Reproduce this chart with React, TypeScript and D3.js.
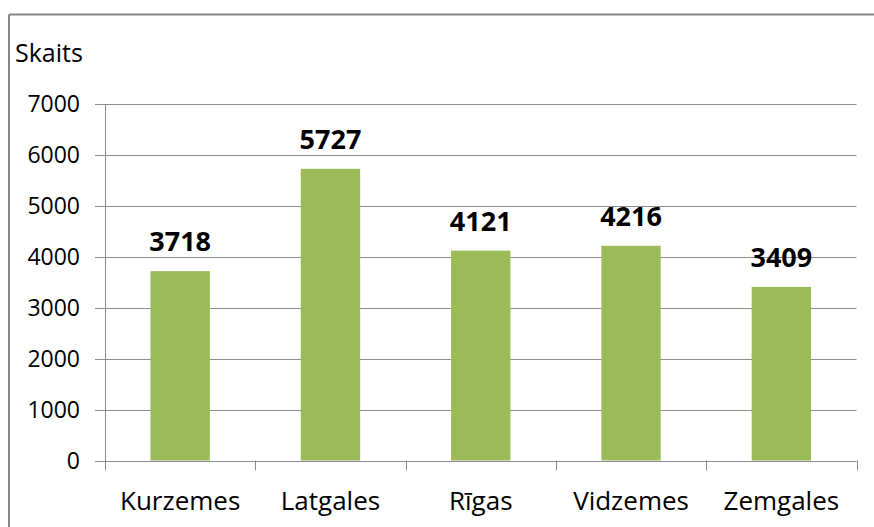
import React from "react";
import * as d3 from "d3";

const categories = ["Kurzemes", "Latgales", "Rīgas", "Vidzemes", "Zemgales"];
const values = [3718, 5727, 4121, 4216, 3409];
const yTicks = [0, 1000, 2000, 3000, 4000, 5000, 6000, 7000];
const yTitle = "Skaits";

const W = 874;
const H = 527;
const FONT = "'Open Sans', Lato, sans-serif";

export default function App() {
  const left = 105;
  const right = 856.5;
  const top = 104;
  const bottom = 460.5;

  const x = d3.scaleBand<string>().domain(categories).range([left, right]).paddingInner(0).paddingOuter(0);
  const y = d3.scaleLinear().domain([0, 7000]).range([bottom, top]);
  const bw = x.bandwidth() * 0.395;
  const grid = "#8c8c8c";

  return (
    <svg width={W} height={H} style={{ position: "absolute", left: 0, top: 0 }}>
      <rect x={0} y={0} width={W} height={H} fill="#fff" />
      {/* chart border (top and left) */}
      <line x1={9} y1={14.5} x2={W} y2={14.5} stroke="#868686" strokeWidth={2} />
      <line x1={9} y1={14.5} x2={9} y2={H} stroke="#868686" strokeWidth={2} />

      <text x={15} y={62} fontFamily={FONT} fontSize={25} fill="#000">{yTitle}</text>

      {yTicks.map((t) => (
        <g key={t}>
          <line x1={left - 10} x2={right} y1={Math.round(y(t)) + 0.5} y2={Math.round(y(t)) + 0.5} stroke={grid} strokeWidth={1} />
          <text x={80} y={y(t)} dy="0.36em" textAnchor="end" fontFamily={FONT} fontSize={23} fill="#000">{t}</text>
        </g>
      ))}
      <line x1={left + 0.5} x2={left + 0.5} y1={top} y2={bottom + 10} stroke={grid} strokeWidth={1} />
      {categories.map((c, i) => (
        <line key={"t" + i} x1={Math.round((x(c) as number) + x.bandwidth()) + 0.5} x2={Math.round((x(c) as number) + x.bandwidth()) + 0.5} y1={bottom} y2={bottom + 10} stroke={grid} strokeWidth={1} />
      ))}

      {categories.map((c, i) => {
        const cx = (x(c) as number) + x.bandwidth() / 2;
        return (
          <g key={c}>
            <rect x={cx - bw / 2} y={y(values[i])} width={bw} height={bottom - y(values[i])} fill="#9BBB59" />
            <text x={cx} y={y(values[i]) - 20} textAnchor="middle" fontFamily={FONT} fontWeight="bold" fontSize={27} fill="#000">{values[i]}</text>
            <text x={cx} y={510} textAnchor="middle" fontFamily={FONT} fontSize={26} fill="#000">{c}</text>
          </g>
        );
      })}
    </svg>
  );
}
